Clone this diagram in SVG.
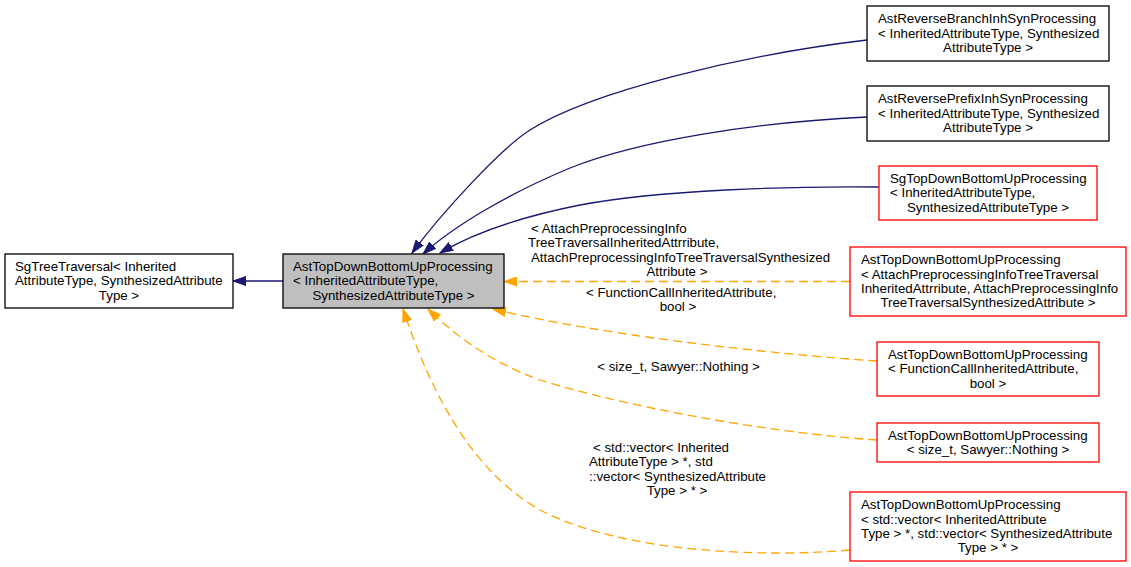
<svg xmlns="http://www.w3.org/2000/svg" width="1131" height="567" viewBox="0 0 1131 567">
<style>
text{font-family:"Liberation Sans",Arial,sans-serif;font-size:13.3px;fill:#000}
.m{text-anchor:middle}
.box{fill:#fff;stroke:#000;stroke-width:1.3}
.red{fill:#fff;stroke:#ff0000;stroke-width:1.3}
.cur{fill:#bfbfbf;stroke:#000;stroke-width:1.3}
.inh{fill:none;stroke:#191970;stroke-width:1.3}
.tpl{fill:none;stroke:#ffa500;stroke-width:1.3;stroke-dasharray:9,5}
</style>
<defs>
<marker id="ab" markerUnits="userSpaceOnUse" viewBox="0 0 14 10" markerWidth="14" markerHeight="10" refX="13" refY="5" orient="auto">
<path d="M0,0.5 L13,5 L0,9.5 z" fill="#191970" stroke="#191970" stroke-width="1"/>
</marker>
<marker id="ao" markerUnits="userSpaceOnUse" viewBox="0 0 14 10" markerWidth="14" markerHeight="10" refX="13" refY="5" orient="auto">
<path d="M0,0.5 L13,5 L0,9.5 z" fill="#ffa500" stroke="#ffa500" stroke-width="1"/>
</marker>
</defs>
<rect width="1131" height="567" fill="#fff"/>
<g id="edges">
<path class="inh" d="M283,281 L233,281" marker-end="url(#ab)"/>
<path class="inh" d="M867,40 C740,55 590,92 530,130 C500,149 440,215 412,253" marker-end="url(#ab)"/>
<path class="inh" d="M867,117 C760,122 640,140 570,168 C510,193 455,225 423,254" marker-end="url(#ab)"/>
<path class="inh" d="M879,187 C790,186 660,190 580,205 C520,217 475,232 440,253" marker-end="url(#ab)"/>
<path class="tpl" d="M850,281.5 L504,281.5" marker-end="url(#ao)"/>
<path class="tpl" d="M877,361 C770,354 600,335 493,309" marker-end="url(#ao)"/>
<path class="tpl" d="M877,440 C760,432 620,405 540,380 C490,362 455,335 428,309" marker-end="url(#ao)"/>
<path class="tpl" d="M850,550 C760,558 620,552 540,510 C470,470 430,390 403,309" marker-end="url(#ao)"/>
<g id="edge-labels">
<text x="531" y="232.5">&lt; AttachPreprocessingInfo</text>
<text x="528" y="247">TreeTraversalInheritedAttrribute,</text>
<text x="531" y="261.5">AttachPreprocessingInfoTreeTraversalSynthesized</text>
<text class="m" x="677" y="276">Attribute &gt;</text>
<text x="586" y="297">&lt; FunctionCallInheritedAttribute,</text>
<text class="m" x="678" y="311">bool &gt;</text>
<text class="m" x="678.5" y="371">&lt; size_t, Sawyer::Nothing &gt;</text>
<text x="593" y="451.5">&lt; std::vector&lt; Inherited</text>
<text x="589" y="466">AttributeType &gt; *, std</text>
<text x="589" y="480.5">::vector&lt; SynthesizedAttribute</text>
<text class="m" x="677" y="495">Type &gt; * &gt;</text>
</g>
</g>
<g id="SgTreeTraversal">
<rect class="box" x="5" y="254" width="228" height="54"/>
<text x="15" y="270.8">SgTreeTraversal&lt; Inherited</text>
<text x="15" y="285.2">AttributeType, SynthesizedAttribute</text>
<text class="m" x="119" y="299.6">Type &gt;</text>
</g>
<g id="AstTopDownBottomUpProcessing">
<rect class="cur" x="283" y="254" width="221" height="54"/>
<text x="293" y="270.8">AstTopDownBottomUpProcessing</text>
<text x="293" y="285.2">&lt; InheritedAttributeType,</text>
<text class="m" x="393.5" y="299.6">SynthesizedAttributeType &gt;</text>
</g>
<g id="AstReverseBranchInhSynProcessing">
<rect class="box" x="867" y="6" width="242" height="55"/>
<text x="878" y="23.4">AstReverseBranchInhSynProcessing</text>
<text x="878" y="37.7">&lt; InheritedAttributeType, Synthesized</text>
<text class="m" x="988" y="52">AttributeType &gt;</text>
</g>
<g id="AstReversePrefixInhSynProcessing">
<rect class="box" x="867" y="86" width="242" height="55"/>
<text x="878" y="103.4">AstReversePrefixInhSynProcessing</text>
<text x="878" y="117.7">&lt; InheritedAttributeType, Synthesized</text>
<text class="m" x="988" y="132">AttributeType &gt;</text>
</g>
<g id="SgTopDownBottomUpProcessing">
<rect class="red" x="879" y="166" width="218" height="54"/>
<text x="890" y="182.9">SgTopDownBottomUpProcessing</text>
<text x="890" y="197.2">&lt; InheritedAttributeType,</text>
<text class="m" x="988" y="211.5">SynthesizedAttributeType &gt;</text>
</g>
<g id="AstTopDown_Attach">
<rect class="red" x="850" y="247" width="276" height="69"/>
<text x="861" y="264.3">AstTopDownBottomUpProcessing</text>
<text x="861" y="278.6">&lt; AttachPreprocessingInfoTreeTraversal</text>
<text x="861" y="292.9">InheritedAttrribute, AttachPreprocessingInfo</text>
<text class="m" x="988" y="307.2">TreeTraversalSynthesizedAttribute &gt;</text>
</g>
<g id="AstTopDown_FunctionCall">
<rect class="red" x="877" y="342" width="222" height="54"/>
<text x="888" y="358.9">AstTopDownBottomUpProcessing</text>
<text x="888" y="373.2">&lt; FunctionCallInheritedAttribute,</text>
<text class="m" x="988" y="387.5">bool &gt;</text>
</g>
<g id="AstTopDown_size_t">
<rect class="red" x="877" y="423" width="222" height="39"/>
<text x="888" y="439.5">AstTopDownBottomUpProcessing</text>
<text class="m" x="988" y="453.8">&lt; size_t, Sawyer::Nothing &gt;</text>
</g>
<g id="AstTopDown_vector">
<rect class="red" x="850" y="492" width="276" height="69"/>
<text x="861" y="509.3">AstTopDownBottomUpProcessing</text>
<text x="861" y="523.6">&lt; std::vector&lt; InheritedAttribute</text>
<text x="861" y="537.9">Type &gt; *, std::vector&lt; SynthesizedAttribute</text>
<text class="m" x="988" y="552.2">Type &gt; * &gt;</text>
</g>
</svg>
